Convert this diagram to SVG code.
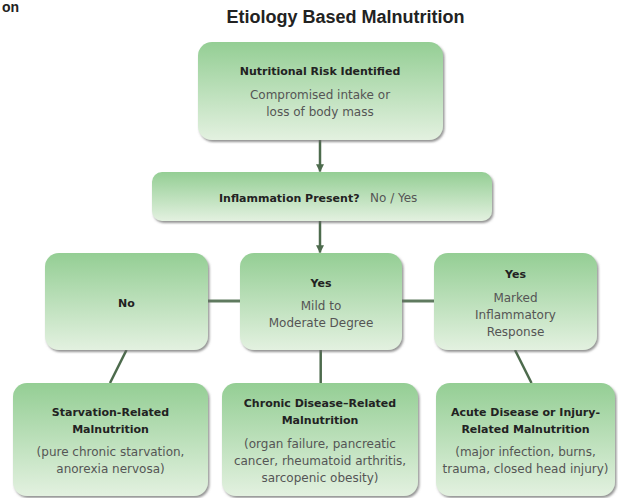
<svg xmlns="http://www.w3.org/2000/svg" width="618" height="498" viewBox="0 0 618 498">
<defs>
<linearGradient id="g" x1="0" y1="0" x2="0" y2="1">
<stop offset="0" stop-color="#94ce94"/>
<stop offset="1" stop-color="#e3f1e0"/>
</linearGradient>
<filter id="sh" x="-10%" y="-10%" width="125%" height="130%">
<feDropShadow dx="1.5" dy="2" stdDeviation="1.2" flood-color="#666" flood-opacity="0.7"/>
</filter>
<marker id="ah" viewBox="0 0 10 10" refX="9" refY="5" markerWidth="3.2" markerHeight="3.2" orient="auto" markerUnits="strokeWidth">
<path d="M0,0 L10,5 L0,10 Z" fill="#4d6b4d"/>
</marker>
<style>
.box{fill:url(#g);filter:url(#sh)}
.b{font-family:"DejaVu Sans",sans-serif;font-weight:bold;font-size:11px;fill:#222;text-anchor:middle}
.r{font-family:"DejaVu Sans",sans-serif;font-size:12px;fill:#555;text-anchor:middle}
.c{stroke:#4d6b4d;stroke-width:2.5;fill:none}
.h{stroke:#5f7a5f;stroke-width:3;fill:none}
.t{font-family:"Liberation Sans",Arial,sans-serif;font-weight:bold;fill:#222}
</style>
</defs>
<rect width="618" height="498" fill="#fff"/>
<text class="t" x="2" y="12" font-size="14">on</text>
<text class="t" x="345.5" y="22.7" font-size="18" text-anchor="middle">Etiology Based Malnutrition</text>
<g id="connectors">
<line class="c" x1="320" y1="140" x2="320" y2="171.5" marker-end="url(#ah)"/>
<line class="c" x1="320" y1="221" x2="320" y2="252.5" marker-end="url(#ah)"/>
<line class="h" x1="208" y1="301" x2="240" y2="301"/>
<line class="h" x1="402" y1="301" x2="434" y2="301"/>
<line class="c" x1="126.5" y1="350" x2="110" y2="383"/>
<line class="c" x1="320.7" y1="350" x2="320.7" y2="383"/>
<line class="c" x1="515" y1="350" x2="531.5" y2="383"/>
</g>
<g id="n1">
<rect class="box" x="198" y="42" width="245" height="98" rx="14"/>
<text class="b" x="320" y="75">Nutritional Risk Identified</text>
<text class="r" x="320" y="98.5">Compromised intake or</text>
<text class="r" x="320" y="115.5">loss of body mass</text>
</g>
<g id="n2">
<rect class="box" x="152" y="172" width="340" height="49" rx="10"/>
<text class="b" x="219" y="201.5" style="text-anchor:start">Inflammation Present?</text>
<text class="r" x="370" y="201.5" style="text-anchor:start">No / Yes</text>
</g>
<g id="n3">
<rect class="box" x="45" y="253" width="163" height="97" rx="14"/>
<text class="b" x="126.5" y="306.5">No</text>
</g>
<g id="n4">
<rect class="box" x="240" y="253" width="162" height="97" rx="14"/>
<text class="b" x="321" y="286.5">Yes</text>
<text class="r" x="321" y="309.5">Mild to</text>
<text class="r" x="321" y="327">Moderate Degree</text>
</g>
<g id="n5">
<rect class="box" x="434" y="253" width="163" height="97" rx="14"/>
<text class="b" x="515.5" y="277.5">Yes</text>
<text class="r" x="515.5" y="301.5">Marked</text>
<text class="r" x="515.5" y="318.5">Inflammatory</text>
<text class="r" x="515.5" y="336">Response</text>
</g>
<g id="n6">
<rect class="box" x="13" y="383" width="195" height="113" rx="14"/>
<text class="b" x="110.5" y="415.5">Starvation-Related</text>
<text class="b" x="110.5" y="433">Malnutrition</text>
<text class="r" x="110.5" y="456">(pure chronic starvation,</text>
<text class="r" x="110.5" y="473">anorexia nervosa)</text>
</g>
<g id="n7">
<rect class="box" x="222" y="383" width="196" height="113" rx="14"/>
<text class="b" x="320" y="407">Chronic Disease–Related</text>
<text class="b" x="320" y="424">Malnutrition</text>
<text class="r" x="320" y="447.5">(organ failure, pancreatic</text>
<text class="r" x="320" y="465">cancer, rheumatoid arthritis,</text>
<text class="r" x="320" y="482">sarcopenic obesity)</text>
</g>
<g id="n8">
<rect class="box" x="436" y="383" width="179" height="113" rx="14"/>
<text class="b" x="525.5" y="415.5">Acute Disease or Injury-</text>
<text class="b" x="525.5" y="433">Related Malnutrition</text>
<text class="r" x="525.5" y="456">(major infection, burns,</text>
<text class="r" x="525.5" y="473">trauma, closed head injury)</text>
</g>
</svg>
